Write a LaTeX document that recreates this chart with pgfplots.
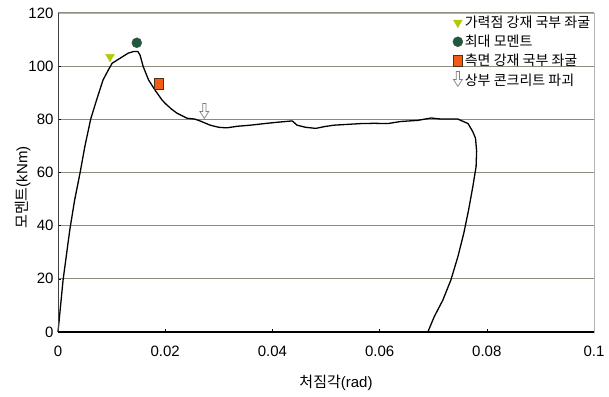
\documentclass[border=0pt]{standalone}
\usepackage{fontspec}
\setmainfont{Liberation Sans}
\newfontfamily\kr{Noto Sans CJK KR}
\usepackage{pgfplots}
\pgfplotsset{compat=1.18}
\definecolor{gridc}{RGB}{140,140,125}
\definecolor{trig}{RGB}{180,200,10}
\definecolor{dgreen}{RGB}{30,90,60}
\definecolor{sqor}{RGB}{245,90,20}
\pgfdeclareplotmark{darrow}{%
  \pgfpathmoveto{\pgfqpoint{-1.6pt}{9pt}}%
  \pgfpathlineto{\pgfqpoint{1.6pt}{9pt}}%
  \pgfpathlineto{\pgfqpoint{1.6pt}{1pt}}%
  \pgfpathlineto{\pgfqpoint{4.5pt}{1pt}}%
  \pgfpathlineto{\pgfqpoint{0pt}{-6pt}}%
  \pgfpathlineto{\pgfqpoint{-4.5pt}{1pt}}%
  \pgfpathlineto{\pgfqpoint{-1.6pt}{1pt}}%
  \pgfpathclose
  \pgfusepathqfillstroke}
\begin{document}
\begin{tikzpicture}
\begin{axis}[name=ax,
  scale only axis, width=536pt, height=319pt,
  xmin=0, xmax=0.1, ymin=0, ymax=120,
  xtick={0,0.02,0.04,0.06,0.08,0.1},
  xticklabels={0,0.02,0.04,0.06,0.08,0.1},
  ytick={0,20,40,60,80,100,120},
  xtick pos=bottom, ytick pos=left, tick align=inside,
  major tick length=3pt,
  tick style={black, line width=0.5pt},
  ymajorgrids, grid style={gridc, line width=1pt},
  axis line style={draw=gray!60, line width=0.6pt},
  ticklabel style={font=\fontsize{15}{17}\selectfont},
  /pgf/number format/assume math mode=true,
  xticklabel style={yshift=-10pt},
  yticklabel style={xshift=-1pt},
  xlabel={{\kr 처짐각}(rad)},
  ylabel={{\kr 모멘트}(kNm)},
  label style={font=\fontsize{15}{17}\selectfont},
  xlabel style={yshift=-12pt, xshift=10pt},
  ylabel style={yshift=-9pt, xshift=-15pt},
  legend style={at={(rel axis cs:0.997,0.997)}, anchor=north east, draw=none, fill=none,
    font=\kr\fontsize{14}{16}\selectfont, row sep=2pt, inner sep=0pt},
  legend cell align=left,
  legend image code/.code={\draw[#1] plot coordinates {(0.12cm,0cm)};},
  clip=false,
]
\addplot[black, line width=1.3pt, line join=round, forget plot] coordinates {
(0,0) (0.00095,19.6) (0.0022,38.4) (0.0031,49.6) (0.0041,59.7) (0.0050,69.7)
(0.0061,80.1) (0.0072,87.3) (0.0084,94.8) (0.0094,98.6) (0.0101,101.1)
(0.0116,103.0) (0.0131,104.9) (0.0141,105.5) (0.0149,105.5) (0.0153,104.2)
(0.0159,99.8) (0.0169,94.8) (0.0181,91.0) (0.0194,87.3) (0.0200,86.0)
(0.0212,83.8) (0.0222,82.3) (0.0241,80.4) (0.0255,80.1) (0.0265,79.4)
(0.0284,77.8) (0.0300,77.0) (0.0315,76.8) (0.0335,77.4) (0.0359,77.8)
(0.0385,78.4) (0.0409,78.9) (0.0437,79.4) (0.0446,77.8) (0.0462,77.0)
(0.0481,76.6) (0.0498,77.3) (0.0515,77.8) (0.0540,78.1) (0.0565,78.4)
(0.0590,78.5) (0.0615,78.4) (0.0640,79.2) (0.0671,79.6) (0.0696,80.5)
(0.0715,80.1) (0.0746,80.1) (0.0765,78.4) (0.0774,75.3) (0.0779,72.8)
(0.0781,68) (0.0780,62.2) (0.0774,54.8) (0.0766,45.9) (0.0757,37.1)
(0.0746,28.3) (0.0733,19.6) (0.0718,12.0) (0.0702,5.8) (0.0690,0)
};
\addplot[only marks, mark=triangle*, mark size=5pt,
  mark options={rotate=180, draw=trig, fill=trig}] coordinates {(0.0097,103.5)};
\addlegendentry{가력점 강재 국부 좌굴}
\addplot[only marks, mark=*, mark size=5pt,
  mark options={draw=black!70, fill=dgreen}] coordinates {(0.0147,108.8)};
\addlegendentry{최대 모멘트}
\addplot[only marks, mark=square*, mark size=4.5pt,
  mark options={yscale=1.25, draw=black!60!brown, fill=sqor}] coordinates {(0.0187,93.5)};
\addlegendentry{측면 강재 국부 좌굴}
\addplot[only marks, mark=darrow,
  mark options={draw=gray, fill=white, line width=0.7pt}] coordinates {(0.0273,82.6)};
\addlegendentry{상부 콘크리트 파괴}
\draw[black!75, line width=1pt] (rel axis cs:0,1) -- (rel axis cs:0,0);
\draw[black, line width=1.2pt] (rel axis cs:0,0) -- (rel axis cs:1,0);
\end{axis}
\pgfresetboundingbox
\path ([xshift=-58pt,yshift=-64pt]ax.south west) rectangle ([xshift=15pt,yshift=13pt]ax.north east);
\end{tikzpicture}
\end{document}
